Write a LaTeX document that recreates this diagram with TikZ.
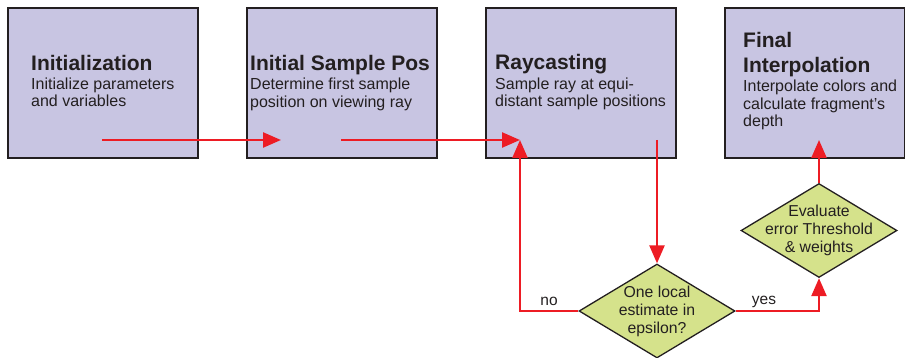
\documentclass[tikz,border=0pt]{standalone}
\usepackage{fontspec}
\setmainfont{Liberation Sans}
\usetikzlibrary{shapes.geometric,arrows.meta}

\definecolor{boxfill}{RGB}{200,197,226}
\definecolor{decfill}{RGB}{213,226,139}
\definecolor{flowred}{RGB}{237,28,36}
\definecolor{ink}{RGB}{35,31,32}

\begin{document}
\begin{tikzpicture}[x=1pt,y=-1pt,
  stage/.style={draw=ink, line width=1.8pt, fill=boxfill, rectangle,
    anchor=north west, minimum height=150pt, inner sep=0pt},
  decision/.style={draw=ink, line width=1.3pt, fill=decfill, diamond,
    minimum width=156pt, minimum height=94pt, inner sep=0pt},
  % multi-line texts are placed by the baseline of their last line
  title/.style={anchor=base west, inner sep=0pt, text=ink, align=left,
    font=\fontsize{21}{24.7}\selectfont\bfseries},
  desc/.style={anchor=base west, inner sep=0pt, text=ink, align=left,
    font=\fontsize{16}{17.3}\selectfont},
  dtext/.style={anchor=base, inner sep=0pt, text=ink, align=center,
    font=\fontsize{15.8}{18}\selectfont},
  lbl/.style={anchor=base, inner sep=0pt, text=ink,
    font=\fontsize{15.5}{18}\selectfont},
  flow/.style={draw=flowred, line width=2.4pt,
    -{Triangle[length=18pt,width=15pt]}}
]
\useasboundingbox (0,0) rectangle (905,358);

% processing stages
\node[stage, minimum width=190pt] (init)  at (7,7)   {};
\node[stage, minimum width=190pt] (pos)   at (246,7) {};
\node[stage, minimum width=190pt] (cast)  at (485,7) {};
\node[stage, minimum width=180pt] (final) at (724,7) {};

% stage texts
\node[title] (initT) at (31,71) {Initialization};
\node[desc]  (initD) at (31,106.5) {Initialize parameters\\and variables};
\node[title] (posT)  at (250,71) {Initial Sample Pos};
\node[desc]  (posD)  at (250,107.3) {Determine first sample\\position on viewing ray};
\node[title] (castT) at (495,70) {Raycasting};
\node[desc]  (castD) at (495,106.8) {Sample ray at equi-\\distant sample positions};
\node[title] (finT)  at (743,72.7) {Final\\Interpolation};
\node[desc]  (finD)  at (743,126.6) {Interpolate colors and\\calculate fragment’s\\depth};

% decisions
\node[decision] (test) at (657,311)   {};
\node[decision] (eval) at (819,230.5) {};
\node[dtext] (testT) at (657,333.3) {One local\\estimate in\\epsilon?};
\node[dtext] (evalT) at (819,252.7) {Evaluate\\error Threshold\\\& weights};

% connector end points inside the stage boxes
\coordinate (initOut) at (102,140);
\coordinate (posIn)   at (281,140);
\coordinate (posOut)  at (341,140);
\coordinate (castIn)  at (520,140);
\coordinate (castOut) at (657,140);
\coordinate (finalIn) at (819,140);

% flow
\draw[flow] (initOut) -- (posIn);
\draw[flow] (posOut) -- (castIn);
\draw[flow] (castOut) -- (test.north);
\draw[flow] (test.west) -| (castIn);
\draw[flow] (test.east) -| (eval.south);
\draw[flow] (eval.north) -- (finalIn);

% branch labels
\node[lbl] (noL)  at (549,305) {no};
\node[lbl] (yesL) at (764,304) {yes};
\end{tikzpicture}
\end{document}
